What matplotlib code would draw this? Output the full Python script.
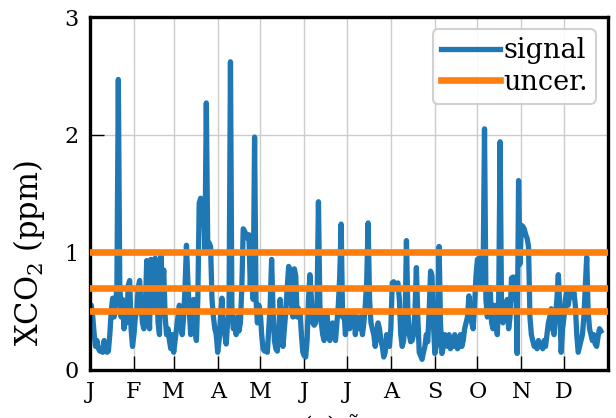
import numpy as np
import matplotlib
matplotlib.use("Agg")
import matplotlib.pyplot as plt

plt.rcParams['font.family'] = ['DejaVu Serif']
plt.rcParams['mathtext.fontset'] = 'dejavuserif'

# daily signal (ppm), day 0 = 1 Jan
sig_jan = [0.40, 0.55, 0.45, 0.30, 0.20, 0.25, 0.18, 0.16, 0.18, 0.15, 0.25, 0.17, 0.15, 0.16, 0.30, 0.50,
           0.61, 0.45, 0.55, 0.70, 2.47, 0.75, 0.45, 0.60, 0.35, 0.55, 0.40, 0.72, 0.76, 0.35, 0.20]
sig_feb = [0.30, 0.45, 0.50, 0.70, 0.76, 0.55, 0.40, 0.35, 0.50, 0.93, 0.60, 0.35, 0.94, 0.70, 0.50, 0.95,
           0.80, 0.40, 0.30, 0.97, 0.70, 0.85, 0.45, 0.30, 0.35, 0.25, 0.18, 0.30]
sig_mar = [0.15, 0.25, 0.35, 0.45, 0.55, 0.40, 0.30, 0.45, 0.70, 1.06, 0.75, 0.50, 0.30, 0.45, 0.60, 0.35,
           0.25, 0.60, 1.42, 1.46, 1.40, 1.45, 1.00, 2.27, 1.05, 1.08, 1.05, 0.60, 0.45, 0.35, 0.30]
sig_apr = [0.15, 0.25, 0.45, 0.61, 0.35, 0.30, 0.22, 0.40, 0.50, 2.62, 0.55, 0.35, 0.40, 0.30, 0.45, 0.33,
           0.40, 0.70, 1.20, 1.18, 1.15, 1.12, 1.15, 0.70, 1.10, 0.60, 1.98, 0.60, 0.40, 0.55]
sig_may = [0.50, 0.30, 0.18, 0.16, 0.20, 0.15, 0.35, 0.55, 0.94, 0.50, 0.25, 0.18, 0.16, 0.30, 0.60, 0.40,
           0.20, 0.35, 0.50, 0.70, 0.88, 0.85, 0.55, 0.45, 0.86, 0.80, 0.45, 0.52, 0.50, 0.30, 0.15]
sig_jun = [0.12, 0.11, 0.25, 0.60, 0.81, 0.60, 0.40, 0.38, 0.40, 0.55, 1.43, 0.55, 0.40, 0.30, 0.25, 0.45,
           0.50, 0.30, 0.25, 0.35, 0.40, 0.30, 0.25, 0.40, 0.55, 0.80, 1.24, 0.45, 0.50, 0.30]
sig_jul = [0.45, 0.50, 0.35, 0.48, 0.40, 0.50, 0.30, 0.45, 0.40, 0.35, 0.45, 0.30, 0.40, 0.55, 0.75, 1.25,
           0.60, 0.40, 0.35, 0.30, 0.20, 0.30, 0.40, 0.35, 0.25, 0.20, 0.11, 0.15, 0.30, 0.25, 0.20]
sig_aug = [0.35, 0.74, 0.75, 0.73, 0.72, 0.74, 0.60, 0.30, 0.20, 0.25, 0.40, 1.10, 0.50, 0.30, 0.24, 0.25,
           0.30, 0.50, 0.87, 0.45, 0.15, 0.12, 0.09, 0.15, 0.20, 0.30, 0.24, 0.50, 0.84, 0.80, 0.40]
sig_sep = [0.14, 0.20, 0.40, 1.05, 0.40, 0.14, 0.20, 0.30, 0.25, 0.20, 0.30, 0.18, 0.25, 0.20, 0.30, 0.25,
           0.18, 0.22, 0.30, 0.20, 0.25, 0.35, 0.40, 0.45, 0.63, 0.50, 0.40, 0.35, 0.55, 0.80]
sig_oct = [0.94, 0.95, 0.70, 0.96, 0.80, 2.05, 0.60, 0.45, 0.55, 0.70, 0.40, 0.35, 0.55, 0.45, 0.30, 0.60,
           1.94, 0.50, 0.40, 0.55, 0.45, 0.60, 0.35, 0.45, 0.78, 0.79, 0.60, 0.79, 0.14, 1.61, 0.90]
sig_nov = [1.23, 1.22, 1.20, 1.15, 1.12, 1.05, 0.45, 0.30, 0.25, 0.20, 0.22, 0.18, 0.25, 0.20, 0.22, 0.18,
           0.25, 0.20, 0.30, 0.40, 0.45, 0.52, 0.35, 0.30, 0.45, 0.60, 0.81, 0.55, 0.15, 0.35]
sig_dec = [0.45, 0.60, 0.68, 0.55, 0.65, 0.68, 0.62, 0.66, 0.55, 0.30, 0.15, 0.20, 0.25, 0.30, 0.45, 0.70,
           0.96, 0.50, 0.35, 0.30, 0.25, 0.30, 0.22, 0.20, 0.28, 0.35, 0.33]

uncer = [0.5, 0.7, 1.0]
month_labels = ['J', 'F', 'M', 'A', 'M', 'J', 'J', 'A', 'S', 'O', 'N', 'D']
month_start = [0, 31, 59, 90, 120, 151, 181, 212, 243, 273, 304, 334]

signal = np.array(sig_jan + sig_feb + sig_mar + sig_apr + sig_may + sig_jun +
                  sig_jul + sig_aug + sig_sep + sig_oct + sig_nov + sig_dec)
days = np.arange(len(signal))

fig = plt.figure(figsize=(6.16, 4.18), dpi=100)
ax = fig.add_axes([0.146, 0.115, 0.841, 0.844])

ax.plot(days, signal, color='#1f77b4', lw=3.8, label='signal', zorder=2)
for i, u in enumerate(uncer):
    ax.axhline(u, color='#ff7f0e', lw=4.8, label='uncer.' if i == 0 else None, zorder=3)

ax.set_xlim(0, 365)
ax.set_ylim(0, 3)
ax.set_xticks(month_start)
ax.set_xticklabels(month_labels)
ax.set_yticks([0, 1, 2, 3])
ax.grid(True, color='#cccccc', lw=1.0)
ax.set_axisbelow(True)
ax.tick_params(direction='in', length=10, width=1.0, labelsize=16, pad=8)
for s in ax.spines.values():
    s.set_linewidth(2.4)
ax.set_ylabel('XCO$_2$ (ppm)', fontsize=22)
ax.yaxis.set_label_coords(-0.083, 0.33)

leg = ax.legend(loc='upper right', fontsize=19.5, handlelength=2.2, handletextpad=0.1,
                borderpad=0.3, labelspacing=0.15, borderaxespad=0.45, fancybox=True, framealpha=0.9)
leg.get_frame().set_edgecolor('#cccccc')
leg.get_frame().set_linewidth(1.5)

# caption that got cut off at the bottom of the original
fig.text(331 / 616, 5 / 418, '(a) $\\tilde{x}$', ha='center', va='top', fontsize=18)

fig.savefig('out.png', dpi=100)
